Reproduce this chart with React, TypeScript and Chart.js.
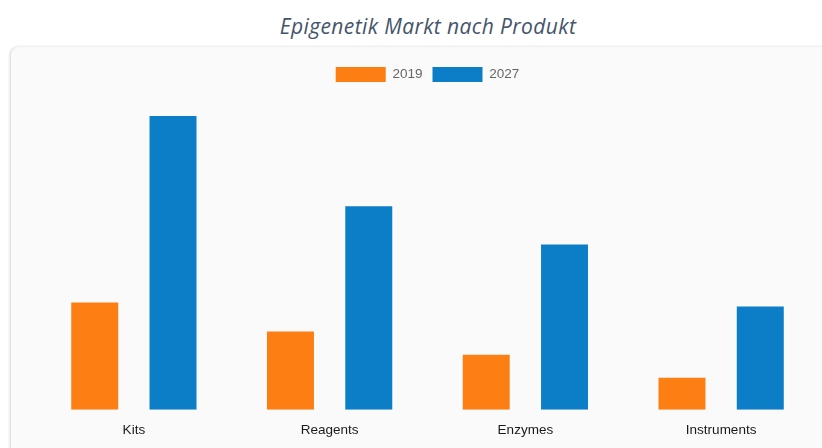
import React, { useEffect, useRef } from "react";
import { Chart, registerables } from "chart.js";

Chart.register(...registerables);

const categories = ["Kits", "Reagents", "Enzymes", "Instruments"];
const seriesLabels = ["2019", "2027"];
const values2019 = [1.07, 0.78, 0.55, 0.32];
const values2027 = [2.93, 2.03, 1.65, 1.03];
const yMax = 3.17;

export default function App() {
  const ref = useRef<HTMLCanvasElement | null>(null);

  useEffect(() => {
    if (!ref.current) return;
    const chart = new Chart(ref.current, {
      type: "bar",
      data: {
        labels: categories,
        datasets: [
          {
            label: seriesLabels[0],
            data: values2019,
            backgroundColor: "#fd7f14",
            borderWidth: 0,
            barPercentage: 0.6,
            categoryPercentage: 0.8,
          },
          {
            label: seriesLabels[1],
            data: values2027,
            backgroundColor: "#0c7ec8",
            borderWidth: 0,
            barPercentage: 0.6,
            categoryPercentage: 0.8,
          },
        ],
      },
      options: {
        animation: false,
        responsive: false,
        maintainAspectRatio: false,
        layout: { padding: { left: 36, right: 3, top: 10, bottom: 12 } },
        plugins: {
          legend: {
            display: true,
            position: "top",
            labels: {
              boxWidth: 50,
              boxHeight: 15,
              color: "#666",
              font: { family: "'Liberation Sans', Arial, sans-serif", size: 13.5 },
              padding: 10,
            },
          },
          tooltip: { enabled: false },
          title: { display: false },
        },
        scales: {
          x: {
            grid: { display: false },
            border: { display: false },
            ticks: {
              color: "#1a1a1a",
              padding: 4,
              font: { family: "'Liberation Sans', Arial, sans-serif", size: 13.5 },
            },
          },
          y: {
            display: false,
            min: 0,
            max: yMax,
          },
        },
      },
    });
    return () => chart.destroy();
  }, []);

  return (
    <div style={{ position: "fixed", left: 0, top: 0, width: 822, height: 448, background: "#fff", overflow: "hidden" }}>
      <div
        style={{
          position: "absolute",
          left: 0,
          top: 12,
          width: 856,
          textAlign: "center",
          fontFamily: "'Open Sans', sans-serif",
          fontStyle: "italic",
          fontSize: 21,
          letterSpacing: 0.4,
          color: "#44546a",
        }}
      >
        Epigenetik Markt nach Produkt
      </div>
      <div
        style={{
          position: "absolute",
          left: 11,
          top: 47,
          width: 840,
          height: 440,
          background: "#fafafa",
          borderRadius: 8,
          boxShadow: "-1px 0 3px rgba(0,0,0,0.18)",
        }}
      />
      <canvas
        ref={ref}
        width={822}
        height={407}
        style={{ position: "absolute", left: 0, top: 47, width: 822, height: 407 }}
      />
    </div>
  );
}
